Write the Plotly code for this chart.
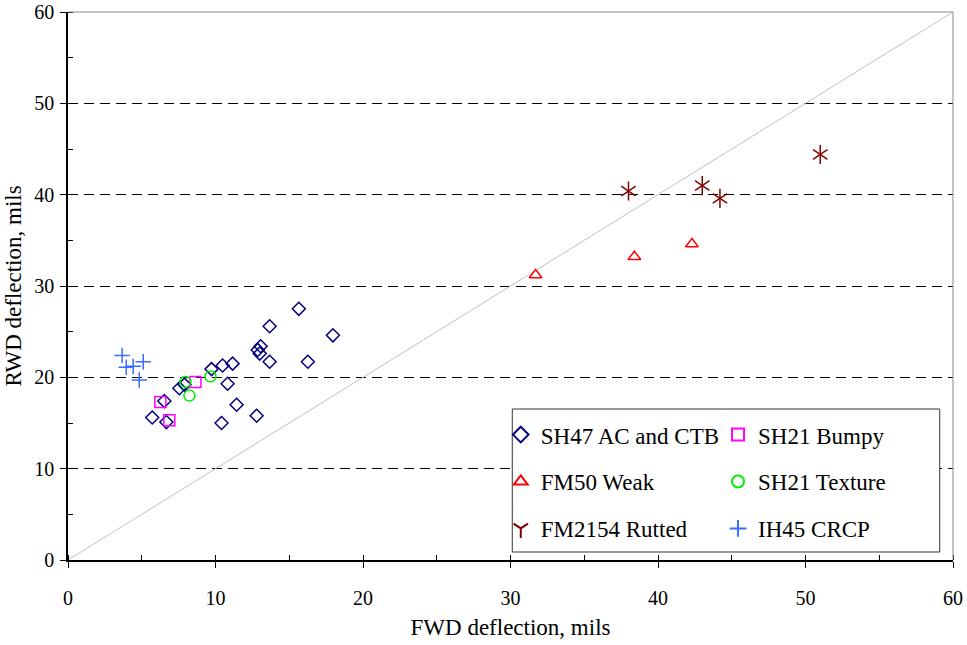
import plotly.graph_objects as go

# ---- data ----
sh47_x = [15.65, 13.67, 17.96, 12.86, 13.06, 13.0, 13.67, 16.26, 10.48, 11.16, 9.73, 10.82,
          11.43, 12.79, 10.41, 7.55, 7.9, 6.53, 5.71, 6.67]
sh47_y = [27.5, 25.6, 24.6, 23.0, 23.4, 22.6, 21.7, 21.7, 21.3, 21.5, 20.9, 19.3,
          17.0, 15.8, 15.0, 18.8, 19.2, 17.4, 15.6, 15.1]
bumpy_x = [8.64, 6.26, 6.87]
bumpy_y = [19.5, 17.3, 15.3]
fm50_x = [31.7, 38.4, 42.3]
fm50_y = [31.2, 33.2, 34.6]
texture_x = [7.96, 8.23, 9.66]
texture_y = [19.5, 18.0, 20.1]
rutted_x = [38.0, 43.0, 44.2, 51.0]
rutted_y = [40.4, 41.0, 39.6, 44.4]
crcp_x = [3.67, 3.95, 4.42, 5.10, 4.83]
crcp_y = [22.4, 21.1, 21.2, 21.7, 19.7]
equality = [0, 60]
x_ticks = [0, 10, 20, 30, 40, 50, 60]
y_ticks = [0, 10, 20, 30, 40, 50, 60]

FONT = "Liberation Serif"
fig = go.Figure()

# equality line
fig.add_trace(go.Scatter(x=equality, y=equality, mode="lines",
                         line=dict(color="#c0c0c0", width=1), showlegend=False, hoverinfo="skip"))

def pts(x, y, name, symbol, color, size, legend, group, show=True):
    fig.add_trace(go.Scatter(x=x, y=y, mode="markers", name=name,
                             marker=dict(symbol=symbol, size=size, color=color,
                                         line=dict(color=color, width=1.5)),
                             legend=legend, legendgroup=group, showlegend=show))

pts(sh47_x, sh47_y, "SH47 AC and CTB", "diamond-open", "#000080", 10, "legend", "a")
pts(fm50_x, fm50_y, "FM50 Weak", "triangle-up-open", "#ff0000", 11, "legend", "b")
pts(rutted_x, rutted_y, "FM2154 Rutted", "y-down-open", "#800000", 12, "legend", "c")
pts(rutted_x, rutted_y, "FM2154 Rutted", "y-up-open", "#800000", 12, "legend", "c", show=False)
pts(bumpy_x, bumpy_y, "SH21 Bumpy", "square-open", "#ff00ff", 11, "legend2", "d")
pts(texture_x, texture_y, "SH21 Texture", "circle-open", "#00ee00", 11, "legend2", "e")
pts(crcp_x, crcp_y, "IH45 CRCP", "cross-thin-open", "#3b6cff", 11, "legend2", "f")

# gray top/right frame
fig.add_shape(type="line", xref="paper", yref="paper", x0=0, x1=1, y0=1, y1=1,
              line=dict(color="#888888", width=1))
fig.add_shape(type="line", xref="paper", yref="paper", x0=1, x1=1, y0=0, y1=1,
              line=dict(color="#888888", width=1))
# legend box
fig.add_shape(type="rect", xref="paper", yref="paper", x0=0.502, x1=0.985, y0=0.0146, y1=0.2755,
              line=dict(color="#333333", width=1), fillcolor="white", layer="above")

legend_common = dict(font=dict(family=FONT, size=23, color="black"), bgcolor="rgba(0,0,0,0)",
                     tracegroupgap=14, yanchor="top", xanchor="left", itemsizing="constant")
fig.update_layout(
    width=967, height=645,
    margin=dict(l=68, r=14, t=12, b=85),
    plot_bgcolor="white", paper_bgcolor="white",
    font=dict(family=FONT, size=20, color="black"),
    legend=dict(x=0.489, y=0.268, **legend_common),
    legend2=dict(x=0.7345, y=0.268, **legend_common),
    xaxis=dict(range=[0, 60], tickvals=x_ticks, showgrid=False, zeroline=False, automargin=False,
               showline=True, linecolor="black", linewidth=1.5, ticks="outside",
               ticklen=6, tickcolor="black", ticklabelstandoff=13,
               minor=dict(dtick=5, ticks="inside", ticklen=5, tickcolor="black", showgrid=False),
               title=dict(text="FWD deflection, mils", font=dict(size=23), standoff=11),
               tickfont=dict(size=20)),
    yaxis=dict(range=[0, 60], tickvals=y_ticks, showgrid=True, gridcolor="black",
               griddash="10px,6px", gridwidth=1, zeroline=False, automargin=False,
               showline=True, linecolor="black", linewidth=1.5, ticks="outside",
               ticklen=6, tickcolor="black", ticklabelstandoff=2,
               minor=dict(dtick=5, ticks="inside", ticklen=5, tickcolor="black", showgrid=False),
               title=dict(text="RWD deflection, mils", font=dict(size=23), standoff=6),
               tickfont=dict(size=20)),
)

fig.write_html("out.html")
